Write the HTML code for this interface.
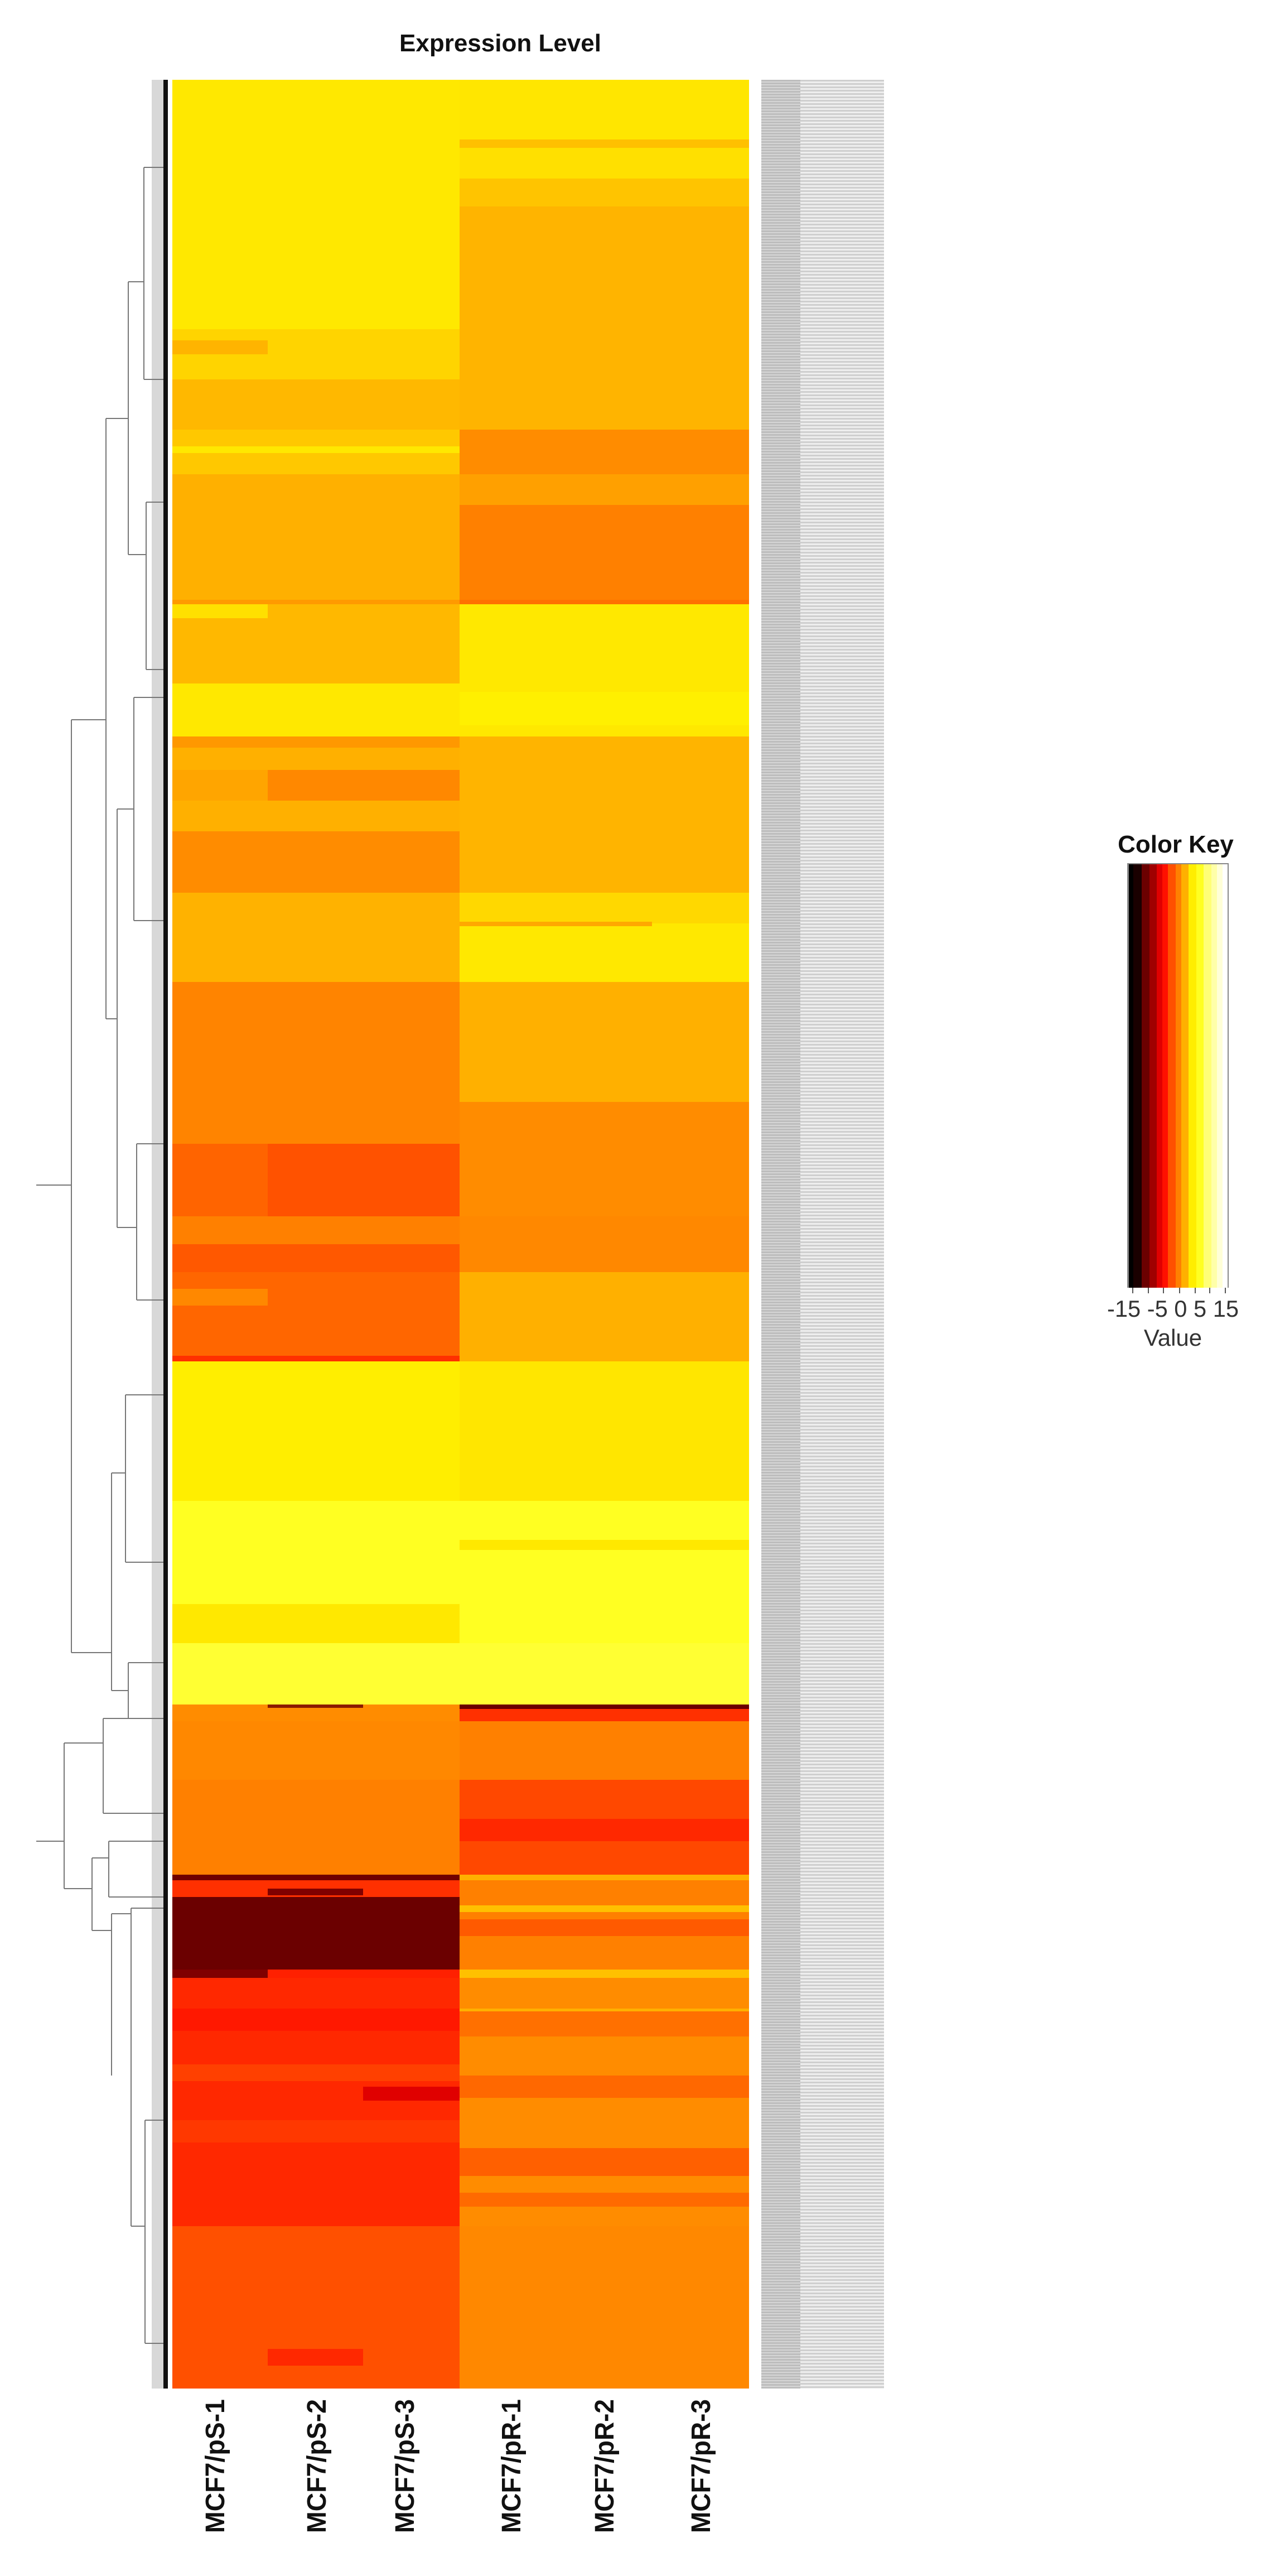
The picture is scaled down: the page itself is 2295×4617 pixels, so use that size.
<!DOCTYPE html>
<html><head><meta charset="utf-8"><style>
html,body{margin:0;padding:0;background:#fff;}
body{width:2295px;height:4617px;position:relative;overflow:hidden;}
svg{position:absolute;left:0;top:0;}
.lab{position:absolute;left:1365px;top:143px;height:4138px;}
</style></head><body>
<div class="lab" style="width:70px;background:repeating-linear-gradient(#bdbdbd 0 3px,#d6d6d6 3px 5px);"></div>
<div class="lab" style="left:1435px;width:150px;background:repeating-linear-gradient(#cfcfcf 0 3px,#eeeeee 3px 6px);"></div>
<svg width="2295" height="4617" xmlns="http://www.w3.org/2000/svg" font-family="Liberation Sans, sans-serif">
<text x="897" y="92" font-size="44" font-weight="bold" text-anchor="middle" fill="#111">Expression Level</text>
<g shape-rendering="crispEdges">
<rect x="309" y="143" width="515" height="4138" fill="#ff8800"/>
<rect x="309" y="143" width="515" height="447" fill="#ffe800"/><rect x="824" y="143" width="519" height="107" fill="#ffe600"/>
<rect x="824" y="250" width="519" height="15" fill="#ffc000"/>
<rect x="824" y="265" width="519" height="55" fill="#ffe000"/>
<rect x="824" y="320" width="519" height="50" fill="#ffc400"/>
<rect x="824" y="370" width="519" height="400" fill="#ffb400"/>
<rect x="309" y="590" width="515" height="90" fill="#ffd400"/>
<rect x="309" y="610" width="171" height="25" fill="#ffb400"/>
<rect x="309" y="680" width="515" height="90" fill="#ffb800"/>
<rect x="309" y="770" width="515" height="80" fill="#ffc800"/>
<rect x="309" y="800" width="515" height="12" fill="#ffe800"/>
<rect x="824" y="770" width="519" height="80" fill="#ff8c00"/>
<rect x="309" y="850" width="515" height="225" fill="#ffb000"/>
<rect x="824" y="850" width="519" height="55" fill="#ffa000"/>
<rect x="824" y="905" width="519" height="170" fill="#ff8000"/>
<rect x="309" y="1075" width="515" height="8" fill="#ff9a00"/><rect x="824" y="1075" width="519" height="8" fill="#ff7000"/>
<rect x="309" y="1083" width="515" height="142" fill="#ffb800"/><rect x="824" y="1083" width="519" height="237" fill="#ffe800"/>
<rect x="309" y="1083" width="171" height="25" fill="#ffe000"/>
<rect x="309" y="1225" width="515" height="95" fill="#ffe800"/>
<rect x="824" y="1240" width="519" height="60" fill="#fff000"/>
<rect x="309" y="1320" width="515" height="20" fill="#ff9800"/>
<rect x="309" y="1340" width="515" height="40" fill="#ffb000"/><rect x="824" y="1320" width="519" height="170" fill="#ffb400"/>
<rect x="309" y="1380" width="171" height="55" fill="#ffa500"/><rect x="480" y="1380" width="344" height="55" fill="#ff8800"/>
<rect x="309" y="1435" width="515" height="55" fill="#ffb000"/>
<rect x="309" y="1490" width="515" height="110" fill="#ff8c00"/><rect x="824" y="1490" width="519" height="110" fill="#ffb400"/>
<rect x="309" y="1600" width="515" height="160" fill="#ffb200"/><rect x="824" y="1600" width="519" height="55" fill="#ffd800"/>
<rect x="824" y="1655" width="519" height="105" fill="#ffe800"/>
<rect x="824" y="1652" width="345" height="8" fill="#ffa800"/>
<rect x="309" y="1760" width="515" height="290" fill="#ff8400"/><rect x="824" y="1760" width="519" height="215" fill="#ffb000"/>
<rect x="824" y="1975" width="519" height="75" fill="#ff8c00"/>
<rect x="309" y="2050" width="171" height="130" fill="#ff6400"/><rect x="480" y="2050" width="344" height="130" fill="#ff5200"/>
<rect x="824" y="2050" width="519" height="130" fill="#ff8c00"/>
<rect x="309" y="2180" width="515" height="50" fill="#ff8000"/><rect x="824" y="2180" width="519" height="50" fill="#ff8800"/>
<rect x="309" y="2230" width="515" height="50" fill="#ff5800"/><rect x="824" y="2230" width="519" height="50" fill="#ff8800"/>
<rect x="309" y="2280" width="515" height="150" fill="#ff6600"/><rect x="824" y="2280" width="519" height="160" fill="#ffb000"/>
<rect x="309" y="2310" width="171" height="30" fill="#ff8800"/>
<rect x="309" y="2430" width="515" height="10" fill="#ff3000"/>
<rect x="309" y="2440" width="515" height="250" fill="#ffee00"/><rect x="824" y="2440" width="519" height="250" fill="#ffe600"/>
<rect x="309" y="2690" width="515" height="185" fill="#ffff22"/><rect x="824" y="2690" width="519" height="185" fill="#ffff22"/>
<rect x="824" y="2760" width="519" height="18" fill="#ffe800"/>
<rect x="309" y="2875" width="515" height="70" fill="#ffe800"/><rect x="824" y="2875" width="519" height="70" fill="#ffff22"/>
<rect x="309" y="2945" width="515" height="110" fill="#ffff33"/><rect x="824" y="2945" width="519" height="110" fill="#ffff33"/>
<rect x="309" y="3055" width="515" height="30" fill="#ff8c00"/><rect x="480" y="3055" width="171" height="6" fill="#8b1a00"/>
<rect x="824" y="3055" width="519" height="8" fill="#6b0000"/><rect x="824" y="3063" width="519" height="22" fill="#ff3000"/>
<rect x="309" y="3085" width="515" height="105" fill="#ff8800"/><rect x="824" y="3085" width="519" height="105" fill="#ff8000"/>
<rect x="309" y="3190" width="515" height="170" fill="#ff8000"/><rect x="824" y="3190" width="519" height="170" fill="#ff4800"/>
<rect x="824" y="3260" width="519" height="40" fill="#ff2800"/>
<rect x="309" y="3360" width="515" height="10" fill="#700000"/><rect x="824" y="3360" width="519" height="10" fill="#ffb000"/>
<rect x="309" y="3370" width="515" height="30" fill="#ff3000"/><rect x="480" y="3385" width="171" height="12" fill="#800000"/>
<rect x="824" y="3370" width="519" height="160" fill="#ff8000"/>
<rect x="824" y="3440" width="519" height="30" fill="#ff5a00"/>
<rect x="309" y="3400" width="515" height="130" fill="#6b0000"/>
<rect x="824" y="3415" width="519" height="12" fill="#ffc000"/>
<rect x="309" y="3530" width="171" height="15" fill="#800000"/><rect x="480" y="3530" width="344" height="15" fill="#ff2000"/>
<rect x="824" y="3530" width="519" height="15" fill="#ffc000"/>
<rect x="309" y="3545" width="515" height="445" fill="#ff2800"/><rect x="824" y="3545" width="519" height="445" fill="#ff8c00"/>
<rect x="309" y="3600" width="515" height="40" fill="#ff1800"/>
<rect x="309" y="3700" width="515" height="30" fill="#ff4000"/>
<rect x="651" y="3740" width="173" height="25" fill="#e00000"/>
<rect x="309" y="3800" width="515" height="40" fill="#ff3800"/>
<rect x="824" y="3600" width="519" height="50" fill="#ff7000"/>
<rect x="824" y="3720" width="519" height="40" fill="#ff6800"/>
<rect x="824" y="3850" width="519" height="50" fill="#ff6000"/>
<rect x="824" y="3930" width="519" height="25" fill="#ff6a00"/>
<rect x="824" y="3600" width="519" height="5" fill="#ffb000"/>
<rect x="309" y="3990" width="515" height="291" fill="#ff5000"/><rect x="824" y="3990" width="519" height="291" fill="#ff8800"/>
<rect x="480" y="4210" width="171" height="30" fill="#ff2800"/>
</g>
<rect x="272" y="143" width="21" height="4138" fill="#d8d8d8"/>
<rect x="293" y="143" width="8" height="4138" fill="#111"/>
<g stroke="#777" stroke-width="2" fill="none">
<path d="M65 2124H128M128 1290V2962M128 1290H190M190 750V1826M190 750H230M230 505V994M230 505H258M258 300V680M230 994H262M262 900V1200M190 1826H210M210 1450V2200M210 1450H240M240 1250V1650M210 2200H245M245 2050V2330M128 2962H200M200 2640V3030M200 2640H225M225 2500V2800M200 3030H230M230 2980V3080"/>
<path d="M65 3300H115M115 3124V3385M115 3124H185M185 3080V3250M115 3385H165M165 3330V3460M165 3330H195M195 3300V3400M165 3460H200M200 3430V3720M200 3430H235M235 3420V3990M235 3990H260M260 3800V4200"/>
<path d="M258 300H293M258 680H293M262 900H293M262 1200H293M240 1250H293M240 1650H293M245 2050H293M245 2330H293M225 2500H293M225 2800H293M230 2980H293M230 3080H293M185 3080H293M185 3250H293M195 3300H293M195 3400H293M235 3420H293M260 3800H293M260 4200H293"/>
</g>
<g font-size="48" font-weight="bold" fill="#111" text-anchor="end">
<text transform="translate(402,4300) rotate(-90)" textLength="240" lengthAdjust="spacingAndGlyphs">MCF7/pS-1</text>
<text transform="translate(584,4300) rotate(-90)" textLength="240" lengthAdjust="spacingAndGlyphs">MCF7/pS-2</text>
<text transform="translate(742,4300) rotate(-90)" textLength="240" lengthAdjust="spacingAndGlyphs">MCF7/pS-3</text>
<text transform="translate(933,4300) rotate(-90)" textLength="240" lengthAdjust="spacingAndGlyphs">MCF7/pR-1</text>
<text transform="translate(1100,4300) rotate(-90)" textLength="240" lengthAdjust="spacingAndGlyphs">MCF7/pR-2</text>
<text transform="translate(1273,4300) rotate(-90)" textLength="240" lengthAdjust="spacingAndGlyphs">MCF7/pR-3</text>
</g>
<text x="2108" y="1528" font-size="44" font-weight="bold" text-anchor="middle" fill="#111">Color Key</text>
<g shape-rendering="crispEdges">
<rect x="2021" y="1547" width="182" height="761" fill="#888"/>
<rect x="2024" y="1549" width="8" height="759" fill="#000"/>
<rect x="2032" y="1549" width="15" height="759" fill="#1a0000"/>
<rect x="2047" y="1549" width="14" height="759" fill="#6b0000"/>
<rect x="2061" y="1549" width="13" height="759" fill="#a00000"/>
<rect x="2074" y="1549" width="10" height="759" fill="#e00000"/>
<rect x="2084" y="1549" width="10" height="759" fill="#ff1000"/>
<rect x="2094" y="1549" width="14" height="759" fill="#ff5000"/>
<rect x="2108" y="1549" width="10" height="759" fill="#ff8000"/>
<rect x="2118" y="1549" width="13" height="759" fill="#ffb000"/>
<rect x="2131" y="1549" width="14" height="759" fill="#ffee00"/>
<rect x="2145" y="1549" width="13" height="759" fill="#ffff22"/>
<rect x="2158" y="1549" width="14" height="759" fill="#ffff77"/>
<rect x="2172" y="1549" width="10" height="759" fill="#ffffa8"/>
<rect x="2182" y="1549" width="10" height="759" fill="#ffffd8"/>
<rect x="2192" y="1549" width="9" height="759" fill="#ffffff"/>
</g>
<g stroke="#555" stroke-width="2"><path d="M2031 2308V2318M2059 2308V2318M2086 2308V2318M2115 2308V2318M2143 2308V2318M2169 2308V2318M2197 2308V2318"/></g>
<text x="2103" y="2360" font-size="42" text-anchor="middle" fill="#333" textLength="236" lengthAdjust="spacingAndGlyphs">-15 -5 0 5 15</text>
<text x="2103" y="2412" font-size="42" text-anchor="middle" fill="#333">Value</text>
</svg>
</body></html>
